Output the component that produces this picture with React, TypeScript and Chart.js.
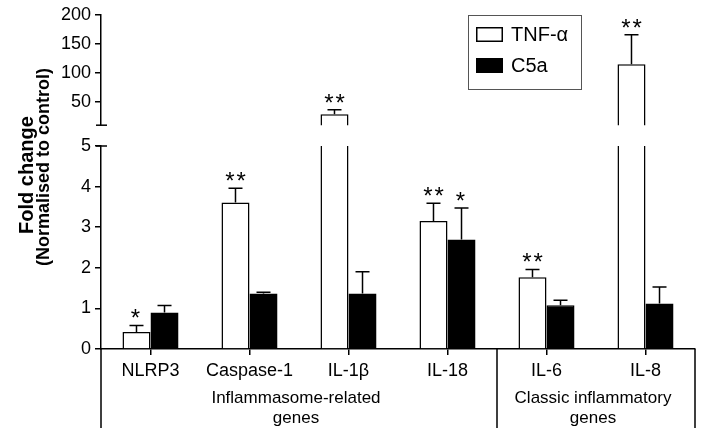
import React, { useEffect, useRef } from 'react';
import { Chart, registerables } from 'chart.js';

Chart.register(...registerables);

const categories = ['NLRP3', 'Caspase-1', 'IL-1β', 'IL-18', 'IL-6', 'IL-8'];
const seriesNames = ['TNF-α', 'C5a'];
const tnfMean = [0.42, 3.61, 29, 3.15, 1.77, 115];
const tnfSem = [0.16, 0.35, 7.7, 0.44, 0.19, 50.5];
const c5aMean = [0.9, 1.37, 1.37, 2.7, 1.08, 1.12];
const c5aSem = [0.17, 0.03, 0.53, 0.77, 0.12, 0.41];
const tnfStars = ['*', '**', '**', '**', '**', '**'];
const c5aStars = ['', '', '', '*', '', ''];
const lowerTicks = [0, 1, 2, 3, 4, 5];
const upperTicks = [50, 100, 150, 200];
const groupLabels = [['Inflammasome-related', 'genes'], ['Classic inflammatory', 'genes']];
const groupStarts = [0, 4];
const groupEnds = [3, 5];
const yTitle = ['Fold change', '(Normalised to control)'];

const FONT = '"Liberation Sans", Arial, Helvetica, sans-serif';
const INK = '#000';

const means = [tnfMean, c5aMean];
const sems = [tnfSem, c5aSem];
const stars = [tnfStars, c5aStars];

function drawErrorsAndStars(chart: any) {
  const ctx = chart.ctx;
  const y = chart.scales.y;
  const area = chart.chartArea;
  ctx.save();
  ctx.strokeStyle = INK;
  ctx.fillStyle = INK;
  ctx.lineWidth = 1.5;
  for (let d = 0; d < 2; d++) {
    const meta = chart.getDatasetMeta(d);
    for (let i = 0; i < categories.length; i++) {
      const m = means[d][i];
      const top = m + sems[d][i];
      if (top < y.min || top > y.max) continue;
      const x = meta.data[i].x;
      const yTop = y.getPixelForValue(top);
      const yBar = y.getPixelForValue(Math.max(m, y.min));
      ctx.beginPath();
      ctx.moveTo(x, Math.min(yBar, area.bottom));
      ctx.lineTo(x, yTop);
      ctx.moveTo(x - 7, yTop);
      ctx.lineTo(x + 7, yTop);
      ctx.stroke();
      const s = stars[d][i];
      if (s) {
        ctx.font = `24px ${FONT}`;
        (ctx as any).letterSpacing = '2px';
        ctx.textAlign = 'center';
        ctx.textBaseline = 'alphabetic';
        ctx.fillText(s, x + (s.length > 1 ? 1 : 0), yTop - 13 + 14);
        (ctx as any).letterSpacing = '0px';
      }
    }
  }
  ctx.restore();
}

const lowerPlugin = {
  id: 'lowerDecor',
  afterDatasetsDraw(chart: any) {
    drawErrorsAndStars(chart);
    const ctx = chart.ctx;
    const area = chart.chartArea;
    const x = chart.scales.x;
    ctx.save();
    ctx.strokeStyle = INK;
    ctx.fillStyle = INK;
    ctx.lineWidth = 1.5;
    // cap at top of lower axis segment
    ctx.beginPath();
    ctx.moveTo(area.left - 5, area.top);
    ctx.lineTo(area.left + 6, area.top);
    ctx.stroke();
    // group separators and labels
    const bounds: number[] = [];
    groupStarts.forEach((s, g) => {
      const left = s === 0 ? area.left : (x.getPixelForValue(s - 1) + x.getPixelForValue(s)) / 2;
      const e = groupEnds[g];
      const right = e === categories.length - 1 ? area.right : (x.getPixelForValue(e) + x.getPixelForValue(e + 1)) / 2;
      bounds.push(left, right);
      ctx.font = `17px ${FONT}`;
      ctx.textAlign = 'center';
      ctx.textBaseline = 'middle';
      const cx = (left + right) / 2 - 3;
      groupLabels[g].forEach((t, k) => ctx.fillText(t, cx, 398 + k * 20));
    });
    const uniq = Array.from(new Set(bounds.map((b) => Math.round(b * 2) / 2)));
    ctx.beginPath();
    uniq.forEach((bx) => {
      ctx.moveTo(bx, area.bottom);
      ctx.lineTo(bx, 428);
    });
    ctx.stroke();
    // y-axis title
    ctx.textAlign = 'center';
    ctx.textBaseline = 'middle';
    const pos = [[27, 175], [44, 167]];
    const sizes = [20, 18];
    yTitle.forEach((t, k) => {
      ctx.save();
      ctx.font = `bold ${sizes[k]}px ${FONT}`;
      ctx.translate(pos[k][0], pos[k][1]);
      ctx.rotate(-Math.PI / 2);
      ctx.fillText(t, 0, 0);
      ctx.restore();
    });
    ctx.restore();
  },
};

const upperPlugin = {
  id: 'upperDecor',
  afterDatasetsDraw(chart: any) {
    drawErrorsAndStars(chart);
    const ctx = chart.ctx;
    const area = chart.chartArea;
    ctx.save();
    ctx.strokeStyle = INK;
    ctx.lineWidth = 1.5;
    ctx.beginPath();
    ctx.moveTo(area.left - 5, area.bottom);
    ctx.lineTo(area.left + 6, area.bottom);
    ctx.stroke();
    // legend
    ctx.strokeStyle = '#555';
    ctx.lineWidth = 1;
    ctx.strokeRect(468.5, 15.5, 113, 74);
    const ds = chart.data.datasets;
    const rows = [27, 58];
    ds.forEach((d: any, k: number) => {
      ctx.fillStyle = d.backgroundColor;
      ctx.fillRect(476, rows[k], 27, 15);
      ctx.strokeStyle = INK;
      ctx.lineWidth = 1.5;
      ctx.strokeRect(476.75, rows[k] + 0.75, 25.5, 13.5);
      ctx.fillStyle = INK;
      ctx.font = `20px ${FONT}`;
      ctx.textAlign = 'left';
      ctx.textBaseline = 'middle';
      ctx.fillText(d.label, 511, rows[k] + 8);
    });
    ctx.restore();
  },
};

function makeDatasets() {
  return [
    { label: seriesNames[0], data: tnfMean, backgroundColor: '#ffffff', borderColor: INK, borderWidth: 1.5, clip: 0, categoryPercentage: 0.566, barPercentage: 1 },
    { label: seriesNames[1], data: c5aMean, backgroundColor: '#000000', borderColor: INK, borderWidth: 1.5, clip: 0, categoryPercentage: 0.566, barPercentage: 1 },
  ];
}

const axisGrid = { drawOnChartArea: false, drawTicks: true, tickLength: 6, color: INK, lineWidth: 1.5 };
const axisBorder = { display: true, color: INK, width: 1.5 };

export default function App() {
  const lowRef = useRef<HTMLCanvasElement>(null);
  const highRef = useRef<HTMLCanvasElement>(null);

  useEffect(() => {
    const lower = new Chart(lowRef.current as HTMLCanvasElement, {
      type: 'bar',
      data: { labels: categories, datasets: makeDatasets() as any },
      options: {
        responsive: false,
        animation: false,
        events: [],
        layout: { padding: { left: 0, top: 146, right: 9, bottom: 0 } },
        plugins: { legend: { display: false }, tooltip: { enabled: false } },
        scales: {
          x: {
            offset: true,
            grid: { ...axisGrid, offset: false },
            border: axisBorder,
            ticks: { color: INK, font: { family: FONT, size: 18 }, padding: 5, maxRotation: 0, autoSkip: false },
            afterFit: (s: any) => { s.height = 86; },
          },
          y: {
            min: 0,
            max: 5,
            afterBuildTicks: (s: any) => { s.ticks = lowerTicks.map((v) => ({ value: v })); },
            grid: axisGrid,
            border: axisBorder,
            ticks: { color: INK, font: { family: FONT, size: 18 }, padding: 4 },
            afterFit: (s: any) => { s.width = 101; },
          },
        },
      } as any,
      plugins: [lowerPlugin],
    });
    const upper = new Chart(highRef.current as HTMLCanvasElement, {
      type: 'bar',
      data: { labels: categories, datasets: makeDatasets() as any },
      options: {
        responsive: false,
        animation: false,
        events: [],
        layout: { padding: { left: 0, top: 14, right: 9, bottom: 12 } },
        plugins: { legend: { display: false }, tooltip: { enabled: false } },
        scales: {
          x: { display: false, offset: true },
          y: {
            min: 10,
            max: 200,
            afterBuildTicks: (s: any) => { s.ticks = upperTicks.map((v) => ({ value: v })); },
            grid: axisGrid,
            border: axisBorder,
            ticks: { color: INK, font: { family: FONT, size: 18 }, padding: 4 },
            afterFit: (s: any) => { s.width = 101; },
          },
        },
      } as any,
      plugins: [upperPlugin],
    });
    return () => {
      lower.destroy();
      upper.destroy();
    };
  }, []);

  return (
    <div style={{ position: 'fixed', left: 0, top: 0, width: 704, height: 435, background: '#fff' }}>
      <canvas ref={lowRef} width={704} height={435} style={{ position: 'absolute', left: 0, top: 0 }} />
      <canvas ref={highRef} width={704} height={140} style={{ position: 'absolute', left: 0, top: 0 }} />
    </div>
  );
}
